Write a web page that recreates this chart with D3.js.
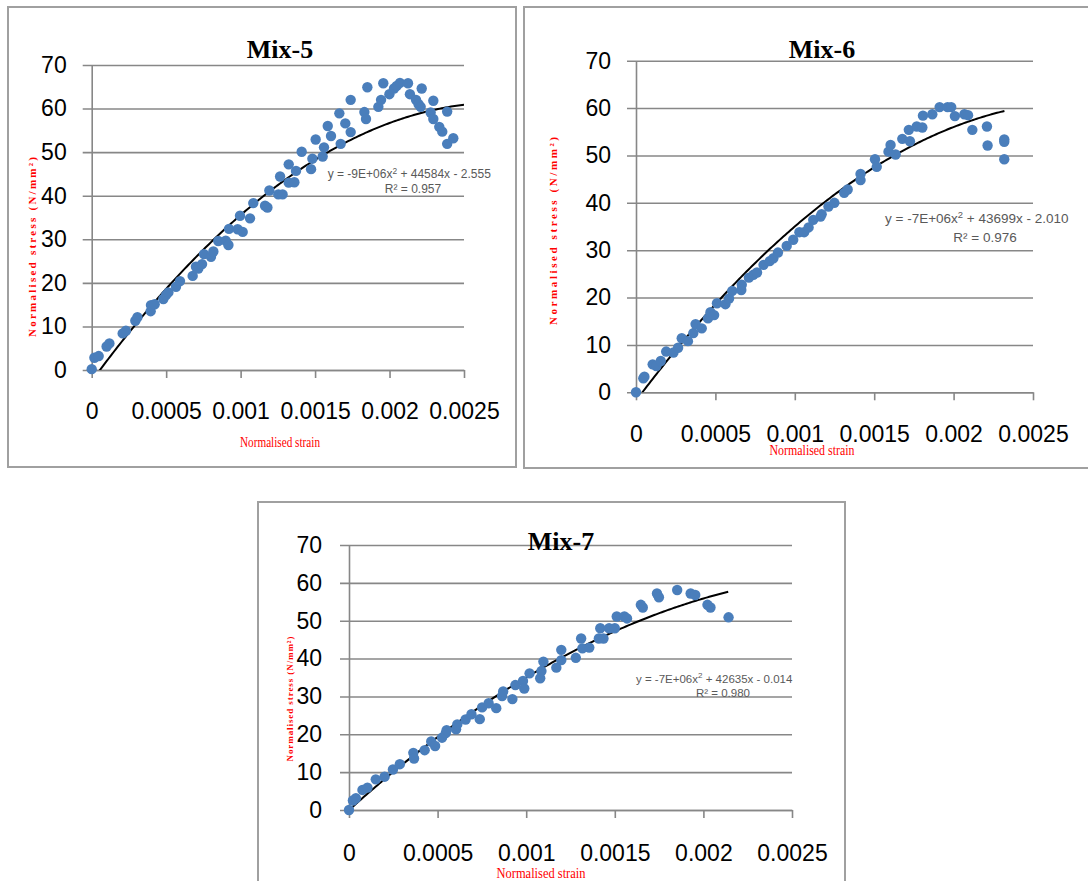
<!DOCTYPE html>
<html>
<head>
<meta charset="utf-8">
<script src="https://cdn.jsdelivr.net/npm/d3@7"></script>
<style>
  body { margin: 0; background: #ffffff; }
  svg { display: block; }
</style>
</head>
<body>
<script>

// axis ticks shared by the three charts
var xTicks = [0, 0.0005, 0.001, 0.0015, 0.002, 0.0025];
var xTickLabels = ["0", "0.0005", "0.001", "0.0015", "0.002", "0.0025"];
var yTicks = [0, 10, 20, 30, 40, 50, 60, 70];

var titles = ["Mix-5", "Mix-6", "Mix-7"];
var eqCoeffs = [["-9E+06", "44584", "2.555"], ["-7E+06", "43699", "2.010"], ["-7E+06", "42635", "0.014"]];
var rSquared = ["0.957", "0.976", "0.980"];

// polynomial trendline as drawn on each chart: [a, b, c] of a x^2 + b x + c
var trendCoeffs = [[-8.49e6, 46600, -2.555], [-7.89e6, 44670, -1.78], [-7.08e6, 42100, -0.014]];
var trendEnd = [0.0025, 0.00232, 0.00214];

// [normalised strain, normalised stress (N/mm2)]
var mix5 = [[0,0.2],[0.000018,2.8],[0.000047,3.2],[0.0001,5.4],[0.000119,6.1],[0.000208,8.4],[0.00023,9.0],
  [0.000293,11.3],[0.000307,12.1],[0.000396,13.5],[0.000398,14.9],[0.000423,15.1],[0.000481,16.3],[0.000499,17.2],
  [0.000515,17.8],[0.000566,19.1],[0.000593,20.4],[0.000678,21.6],[0.0007,23.7],[0.000716,23.3],[0.000741,24.3],
  [0.000754,26.6],[0.000801,26.0],[0.000817,27.2],[0.00085,29.6],[0.0009,29.7],[0.000918,28.7],[0.000922,32.4],
  [0.00098,32.3],[0.000996,35.4],[0.001014,31.7],[0.001063,34.8],[0.001085,38.3],[0.001164,37.7],[0.00118,37.3],
  [0.001193,41.2],[0.001253,40.3],[0.001282,40.3],[0.001265,44.4],[0.001323,47.2],[0.001323,43.0],[0.001361,43.1],
  [0.001372,45.7],[0.00141,50.1],[0.001473,46.1],[0.001482,48.5],[0.001504,52.9],[0.001551,49.0],[0.00156,51.1],
  [0.001585,56.0],[0.001607,53.7],[0.001663,58.9],[0.001672,51.9],[0.001703,56.6],[0.001739,62.0],[0.001739,54.6],
  [0.001831,59.2],[0.001842,57.6],[0.001851,64.9],[0.001925,60.4],[0.001943,62.0],[0.001958,65.8],[0.001999,63.3],
  [0.00203,64.6],[0.002048,65.2],[0.00207,65.9],[0.002124,65.8],[0.002137,63.3],[0.002178,62.0],[0.002195,61.0],
  [0.002216,64.6],[0.002209,60.4],[0.002276,59.1],[0.002294,61.8],[0.002294,57.6],[0.002334,55.8],[0.002354,54.7],
  [0.002387,59.3],[0.002387,51.9],[0.002428,53.2]];

var mix6 = [[0,0],[0.000046,2.95],[0.000053,3.3],[0.000105,5.9],[0.000128,5.56],[0.000156,6.6],[0.00019,8.6],
  [0.000236,8.4],[0.000265,9.4],[0.000288,11.4],[0.000327,10.8],[0.000361,12.5],[0.000375,14.4],[0.000414,13.5],
  [0.000453,15.6],[0.000469,16.9],[0.000492,16.3],[0.00051,18.8],[0.000563,18.6],[0.000586,19.8],[0.000606,21.4],
  [0.000663,21.6],[0.000666,22.7],[0.000711,24.2],[0.000739,24.8],[0.000762,25.3],[0.000803,26.9],[0.000842,27.7],
  [0.000865,28.3],[0.000894,29.5],[0.000949,30.9],[0.00099,32.2],[0.001029,33.8],[0.001059,33.8],[0.001087,34.8],
  [0.001116,36.4],[0.001162,37.1],[0.001169,37.6],[0.001212,39.2],[0.001249,40.0],[0.001311,42.1],[0.001333,42.8],
  [0.001414,44.8],[0.001414,46.1],[0.001505,49.2],[0.001516,47.6],[0.00159,50.8],[0.001603,52.2],[0.001635,50.2],
  [0.001677,53.5],[0.001718,55.4],[0.001725,53.0],[0.001768,56.1],[0.001803,55.9],[0.001807,58.4],[0.001866,58.7],
  [0.001912,60.2],[0.001962,60.2],[0.001985,60.2],[0.002008,58.3],[0.002068,58.7],[0.002091,58.5],[0.002118,55.4],
  [0.00221,56.1],[0.002214,52.1],[0.002319,53.4],[0.002319,52.9],[0.002319,49.2]];

var mix7 = [[0,0],[0.000022,2.5],[0.000039,3.1],[0.000076,5.3],[0.000104,5.9],[0.000151,8.1],[0.000201,8.8],
  [0.000248,10.7],[0.000287,12.1],[0.000363,15.1],[0.000367,13.6],[0.000427,15.8],[0.000464,18.1],[0.000486,16.9],
  [0.000525,19.1],[0.000546,20.3],[0.000551,21.1],[0.000604,21.3],[0.000611,22.6],[0.000658,23.9],[0.000691,25.3],
  [0.000738,24.0],[0.000751,27.1],[0.000788,28.2],[0.000831,26.9],[0.000864,30.1],[0.00087,31.3],[0.000922,29.3],
  [0.000939,33.0],[0.000982,34.1],[0.000989,32.1],[0.001019,36.1],[0.001079,34.8],[0.001086,36.7],[0.001097,39.2],
  [0.00117,37.6],[0.001198,39.6],[0.001198,42.3],[0.00128,40.2],[0.00131,45.3],[0.001317,42.7],[0.001356,42.9],
  [0.00141,45.3],[0.001418,48.0],[0.001436,45.3],[0.001468,48.0],[0.0015,48.0],[0.001511,51.1],[0.001554,51.1],
  [0.001569,50.6],[0.001647,54.2],[0.001658,53.5],[0.001738,57.2],[0.001749,56.2],[0.001852,58.1],[0.001928,57.2],
  [0.001954,56.8],[0.002023,54.2],[0.00204,53.5],[0.002142,50.9]];

var series = [mix5, mix6, mix7];

// where each chart sits on the page
var panels = [
  {box: [8, 7, 508, 460], x0: 91.7, x1: 464, y0: 370, y1: 65, title: [280, 58],
   yLab: [32, 247, 180, 11], xLab: [280, 447, 80], eq: [327.7, 178.3, 12], r2: [413, 192.7], pad: 25},
  {box: [524, 7, 580, 461], x0: 636, x1: 1033, y0: 392.3, y1: 60.7, title: [822, 58],
   yLab: [553.5, 231, 188, 11], xLab: [812, 455, 85], eq: [885, 222.7, 13.5], r2: [985, 241.7], pad: 25},
  {box: [258, 502, 587, 400], x0: 349, x1: 792, y0: 810, y1: 545, title: [561, 550],
   yLab: [289.7, 699, 125, 9], xLab: [541, 878, 89], eq: [636, 682.7, 11.5], r2: [723, 697.3], pad: 27}
];

var svg = d3.select("body").append("svg")
  .attr("width", 1088)
  .attr("height", 881)
  .style("background-color", "#ffffff");

panels.forEach(function(p, i) {
  var x = d3.scaleLinear().domain([0, 0.0025]).range([p.x0, p.x1]);
  var y = d3.scaleLinear().domain([0, 70]).range([p.y0, p.y1]);
  var g = svg.append("g");

  // frame
  g.append("rect")
    .attr("x", p.box[0]).attr("y", p.box[1])
    .attr("width", p.box[2]).attr("height", p.box[3])
    .attr("fill", "none").attr("stroke", "#a0a0a0").attr("stroke-width", 2);

  // y axis with gridlines
  var ya = g.append("g")
    .attr("transform", "translate(" + p.x0 + ",0)")
    .call(d3.axisLeft(y).tickValues(yTicks).tickSize(-(p.x1 - p.x0)).tickSizeOuter(0).tickPadding(p.pad));
  ya.selectAll(".tick line").attr("x1", -9).attr("stroke", "#878787").attr("stroke-width", 1.6);
  ya.select(".domain").attr("stroke", "#878787").attr("stroke-width", 1.6);
  ya.selectAll("text").attr("font-family", "Liberation Sans, Arial, sans-serif")
    .attr("font-size", 23).attr("fill", "#000");

  // x axis
  var xa = g.append("g")
    .attr("transform", "translate(0," + p.y0 + ")")
    .call(d3.axisBottom(x).tickValues(xTicks).tickSize(8).tickSizeOuter(0).tickPadding(p.pad)
      .tickFormat(function(d, k) { return xTickLabels[k]; }));
  xa.selectAll(".tick line").attr("stroke", "#878787").attr("stroke-width", 1.6);
  xa.select(".domain").attr("stroke", "#878787").attr("stroke-width", 1.6);
  xa.selectAll("text").attr("font-family", "Liberation Sans, Arial, sans-serif")
    .attr("font-size", 23).attr("fill", "#000");

  // trendline, clipped to the plot area
  g.append("clipPath").attr("id", "clip" + i)
    .append("rect").attr("x", p.x0).attr("y", p.y1)
    .attr("width", p.x1 - p.x0).attr("height", p.y0 - p.y1);
  var f = trendCoeffs[i];
  var xs = d3.range(0, 201).map(function(k) { return trendEnd[i] * k / 200; });
  g.append("path")
    .datum(xs)
    .attr("clip-path", "url(#clip" + i + ")")
    .attr("fill", "none").attr("stroke", "#000").attr("stroke-width", 2)
    .attr("d", d3.line()
      .x(function(d) { return x(d); })
      .y(function(d) { return y(f[0] * d * d + f[1] * d + f[2]); }));

  // points
  g.selectAll("circle.pt").data(series[i]).enter()
    .append("circle").attr("class", "pt")
    .attr("cx", function(d) { return x(d[0]); })
    .attr("cy", function(d) { return y(d[1]); })
    .attr("r", 5.2)
    .attr("fill", "#4a7ebb");

  // title
  g.append("text")
    .attr("x", p.title[0]).attr("y", p.title[1])
    .attr("text-anchor", "middle")
    .attr("font-family", "Liberation Serif, Times New Roman, serif")
    .attr("font-weight", "bold").attr("font-size", 26)
    .text(titles[i]);

  // axis titles
  g.append("text")
    .attr("transform", "translate(" + p.yLab[0] + "," + p.yLab[1] + ") rotate(-90)")
    .attr("text-anchor", "middle").attr("dy", "0.35em")
    .attr("font-family", "Liberation Serif, Times New Roman, serif")
    .attr("font-weight", "bold").attr("font-size", p.yLab[3])
    .attr("fill", "#ff0000")
    .attr("textLength", p.yLab[2]).attr("lengthAdjust", "spacing")
    .text("Normalised stress (N/mm²)");

  g.append("text")
    .attr("x", p.xLab[0]).attr("y", p.xLab[1])
    .attr("text-anchor", "middle")
    .attr("font-family", "Liberation Serif, Times New Roman, serif")
    .attr("font-size", 15).attr("fill", "#ff0000")
    .attr("textLength", p.xLab[2]).attr("lengthAdjust", "spacingAndGlyphs")
    .text("Normalised strain");

  // equation and R squared
  var eq = g.append("text")
    .attr("x", p.eq[0]).attr("y", p.eq[1])
    .attr("font-family", "Liberation Sans, Arial, sans-serif")
    .attr("font-size", p.eq[2]).attr("fill", "#595959");
  eq.append("tspan").text("y = " + eqCoeffs[i][0] + "x");
  eq.append("tspan").attr("dy", -p.eq[2] * 0.38).attr("font-size", p.eq[2] * 0.7).text("2");
  eq.append("tspan").attr("dy", p.eq[2] * 0.38).text(" + " + eqCoeffs[i][1] + "x - " + eqCoeffs[i][2]);

  g.append("text")
    .attr("x", p.r2[0]).attr("y", p.r2[1])
    .attr("text-anchor", "middle")
    .attr("font-family", "Liberation Sans, Arial, sans-serif")
    .attr("font-size", p.eq[2]).attr("fill", "#595959")
    .text("R² = " + rSquared[i]);
});

</script>
</body>
</html>
